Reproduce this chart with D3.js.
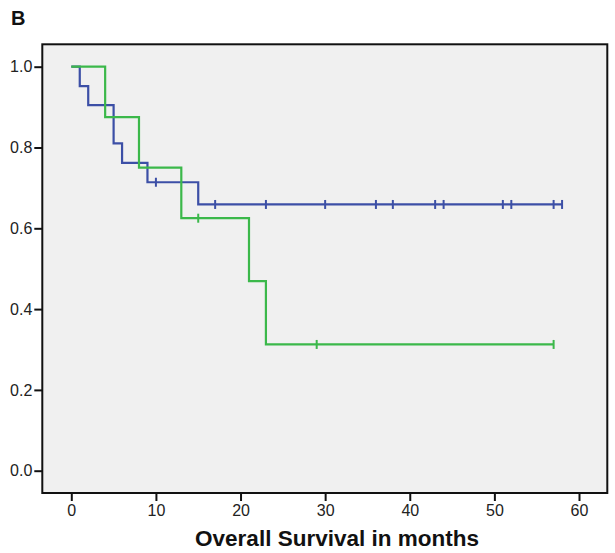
<!DOCTYPE html>
<html>
<head>
<meta charset="utf-8">
<script src="https://cdn.jsdelivr.net/npm/d3@7"></script>
<style>
  html, body { margin: 0; padding: 0; background: #ffffff; }
  svg { display: block; font-family: "Liberation Sans", Arial, sans-serif; }
</style>
</head>
<body>
<svg id="chart" width="615" height="553"></svg>
<script>
// ---- data ----
const xTicks = [0, 10, 20, 30, 40, 50, 60];
const yTicks = [0.0, 0.2, 0.4, 0.6, 0.8, 1.0];

const blueEventTimes = [1, 2, 5, 6, 9, 15];
const blueSurvival   = [0.952, 0.905, 0.810, 0.762, 0.714, 0.659];
const blueEnd        = 58;
const blueCensored   = [10, 17, 23, 30, 36, 38, 43, 44, 51, 52, 57, 58];

const greenEventTimes = [4, 8, 13, 21, 23];
const greenSurvival   = [0.875, 0.750, 0.625, 0.469, 0.3125];
const greenEnd        = 57;
const greenCensored   = [15, 29, 57];

// ---- layout ----
const frame = { left: 42.3, top: 44.3, right: 607.3, bottom: 493 };
const svg = d3.select("#chart");

const x = d3.scaleLinear().domain([0, 60]).range([71.3, 579]);
const y = d3.scaleLinear().domain([0, 1]).range([470.7, 66.7]);

// panel background + frame
svg.append("rect")
  .attr("x", frame.left).attr("y", frame.top)
  .attr("width", frame.right - frame.left)
  .attr("height", frame.bottom - frame.top)
  .attr("fill", "#f0f0f0")
  .attr("stroke", "#111").attr("stroke-width", 2);

// axes
const xAxis = svg.append("g")
  .attr("transform", `translate(0,${frame.bottom})`)
  .call(d3.axisBottom(x).tickValues(xTicks).tickFormat(d3.format("d")).tickSize(8).tickSizeOuter(0).tickPadding(4));
xAxis.select(".domain").remove();
xAxis.selectAll("line").attr("stroke", "#111").attr("stroke-width", 2);
xAxis.selectAll("text").attr("font-size", 16).attr("fill", "#222")
  .attr("font-family", "Liberation Sans, Arial, sans-serif");

const yAxis = svg.append("g")
  .attr("transform", `translate(${frame.left},0)`)
  .call(d3.axisLeft(y).tickValues(yTicks).tickFormat(d3.format(".1f")).tickSize(8).tickSizeOuter(0).tickPadding(2));
yAxis.select(".domain").remove();
yAxis.selectAll("line").attr("stroke", "#111").attr("stroke-width", 2);
yAxis.selectAll("text").attr("font-size", 16).attr("fill", "#222")
  .attr("font-family", "Liberation Sans, Arial, sans-serif");

// survival curves
function stepPoints(times, surv, end) {
  const pts = [[0, 1]];
  times.forEach((t, i) => pts.push([t, surv[i]]));
  pts.push([end, surv[surv.length - 1]]);
  return pts;
}
function survAt(times, surv, t) {
  let s = 1;
  times.forEach((ti, i) => { if (ti <= t) s = surv[i]; });
  return s;
}
const line = d3.line().x(d => x(d[0])).y(d => y(d[1])).curve(d3.curveStepAfter);

const series = [
  { times: blueEventTimes, surv: blueSurvival, end: blueEnd, cens: blueCensored, color: "#3c4fa6" },
  { times: greenEventTimes, surv: greenSurvival, end: greenEnd, cens: greenCensored, color: "#3bb84a" }
];

series.forEach(s => {
  const g = svg.append("g");
  g.append("path")
    .datum(stepPoints(s.times, s.surv, s.end))
    .attr("d", line)
    .attr("fill", "none")
    .attr("stroke", s.color)
    .attr("stroke-width", 2.2);
  g.selectAll("line.cens")
    .data(s.cens)
    .join("line")
    .attr("class", "cens")
    .attr("x1", d => x(d)).attr("x2", d => x(d))
    .attr("y1", d => y(survAt(s.times, s.surv, d)) - 4.5)
    .attr("y2", d => y(survAt(s.times, s.surv, d)) + 4.5)
    .attr("stroke", s.color)
    .attr("stroke-width", 2);
});

// titles
svg.append("text")
  .attr("x", 337).attr("y", 546)
  .attr("text-anchor", "middle")
  .attr("font-size", 22.5).attr("font-weight", "bold").attr("fill", "#111")
  .text("Overall Survival in months");

svg.append("text")
  .attr("x", 11).attr("y", 24.5)
  .attr("font-size", 20).attr("font-weight", "bold").attr("fill", "#111")
  .text("B");
</script>
</body>
</html>
